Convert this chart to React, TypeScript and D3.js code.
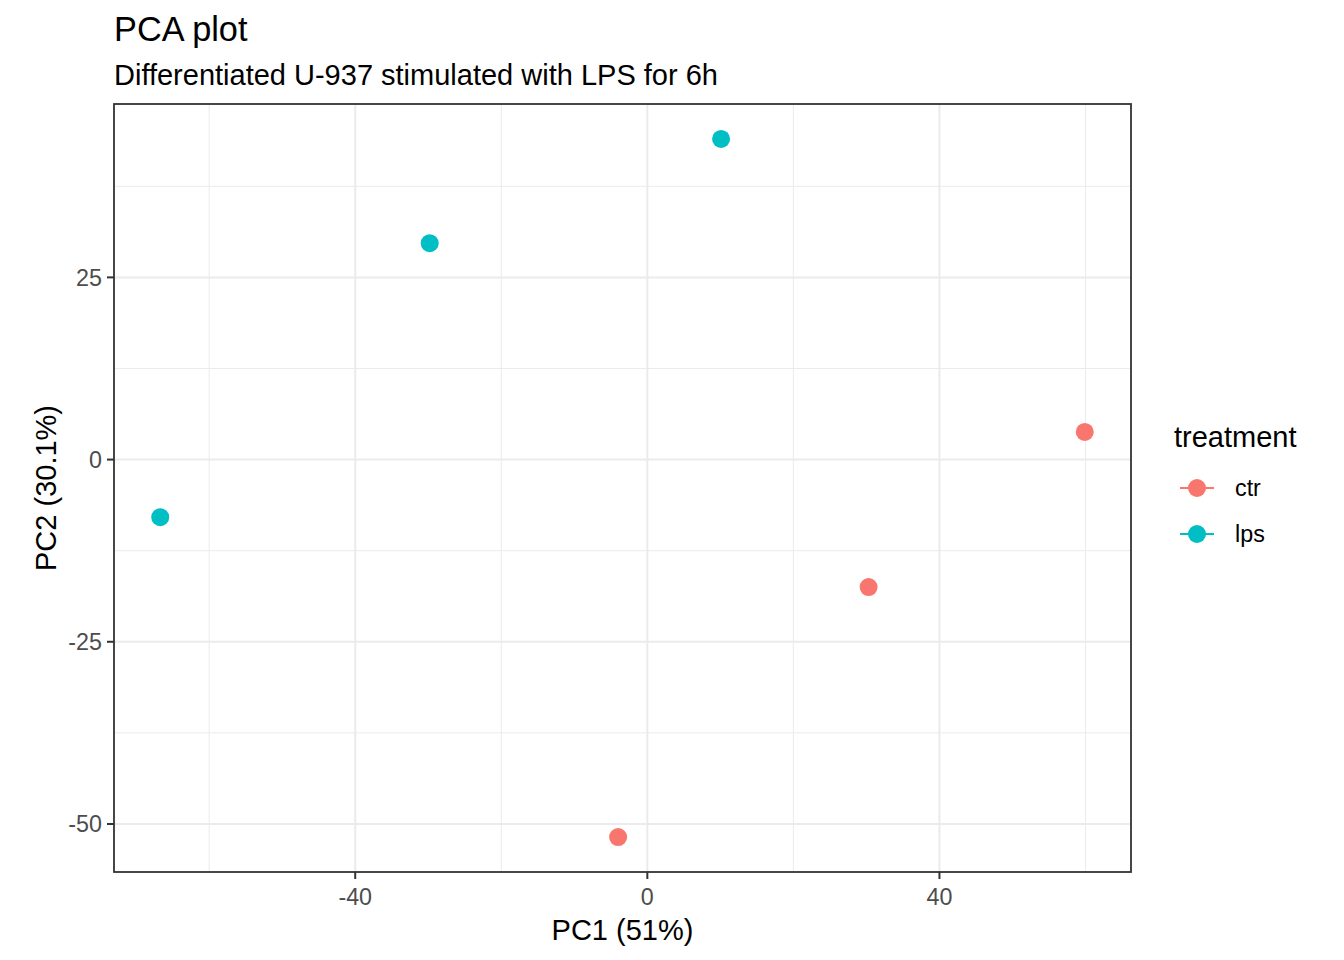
import * as d3 from "d3";

const samples = ["ctr_1", "ctr_2", "ctr_3", "lps_1", "lps_2", "lps_3"];
const treatment = ["ctr", "ctr", "ctr", "lps", "lps", "lps"];
const pc1 = [59.9, 30.3, -4.0, -66.7, -29.8, 10.1];
const pc2 = [3.8, -17.5, -51.8, -7.9, 29.7, 44.0];
const groups = ["ctr", "lps"];
const xTicks = [-40, 0, 40];
const yTicks = [-50, -25, 0, 25];

const COLORS: Record<string, string> = { ctr: "#F8766D", lps: "#00BFC4" };
const FONT = "'Liberation Sans', Arial, sans-serif";

export default function App() {
  const width = 1344;
  const height = 960;
  const margin = { top: 104, right: 213, bottom: 88, left: 114 };
  const pw = width - margin.left - margin.right;
  const ph = height - margin.top - margin.bottom;

  const xr = d3.extent(pc1) as [number, number];
  const yr = d3.extent(pc2) as [number, number];
  const xe = (xr[1] - xr[0]) * 0.05;
  const ye = (yr[1] - yr[0]) * 0.05;
  const x = d3.scaleLinear().domain([xr[0] - xe, xr[1] + xe]).range([0, pw]);
  const y = d3.scaleLinear().domain([yr[0] - ye, yr[1] + ye]).range([ph, 0]);

  // minor gridlines halfway between majors
  const xMinor = [-60, -20, 20, 60].filter((v) => v >= x.domain()[0] && v <= x.domain()[1]);
  const yMinor = [-37.5, -12.5, 12.5, 37.5].filter((v) => v >= y.domain()[0] && v <= y.domain()[1]);

  return (
    <svg width={width} height={height} style={{ display: "block", margin: -8 }} fontFamily={FONT}>
      <rect width={width} height={height} fill="#fff" />
      <text x={114} y={41} fontSize={34.3} fill="#000">PCA plot</text>
      <text x={114} y={85} fontSize={29} fill="#000">Differentiated U-937 stimulated with LPS for 6h</text>
      <g transform={`translate(${margin.left},${margin.top})`}>
        {xMinor.map((v) => (
          <line key={"xm" + v} x1={x(v)} x2={x(v)} y1={0} y2={ph} stroke="#EBEBEB" strokeWidth={1} />
        ))}
        {yMinor.map((v) => (
          <line key={"ym" + v} y1={y(v)} y2={y(v)} x1={0} x2={pw} stroke="#EBEBEB" strokeWidth={1} />
        ))}
        {xTicks.map((v) => (
          <line key={"xg" + v} x1={x(v)} x2={x(v)} y1={0} y2={ph} stroke="#EBEBEB" strokeWidth={2} />
        ))}
        {yTicks.map((v) => (
          <line key={"yg" + v} y1={y(v)} y2={y(v)} x1={0} x2={pw} stroke="#EBEBEB" strokeWidth={2} />
        ))}
        {pc1.map((v, i) => (
          <circle key={samples[i]} cx={x(v)} cy={y(pc2[i])} r={9} fill={COLORS[treatment[i]]} />
        ))}
        <rect x={0} y={0} width={pw} height={ph} fill="none" stroke="#333333" strokeWidth={1.8} />
        {xTicks.map((v) => (
          <g key={"xt" + v} transform={`translate(${x(v)},${ph})`}>
            <line y1={0} y2={7} stroke="#333333" strokeWidth={2} />
            <text y={33} textAnchor="middle" fontSize={23.3} fill="#4D4D4D">{v}</text>
          </g>
        ))}
        {yTicks.map((v) => (
          <g key={"yt" + v} transform={`translate(0,${y(v)})`}>
            <line x1={-7} x2={0} stroke="#333333" strokeWidth={2} />
            <text x={-12} dy="0.35em" textAnchor="end" fontSize={23.3} fill="#4D4D4D">{v}</text>
          </g>
        ))}
        <text x={pw / 2} y={ph + 68} textAnchor="middle" fontSize={29} fill="#000">PC1 (51%)</text>
        <text
          transform={`translate(${-58},${ph / 2}) rotate(-90)`}
          textAnchor="middle"
          fontSize={29}
          fill="#000"
        >
          PC2 (30.1%)
        </text>
      </g>
      <g transform="translate(1174,0)">
        <text x={0} y={447} fontSize={29} fill="#000">treatment</text>
        {groups.map((g, i) => (
          <g key={g} transform={`translate(23,${488 + i * 46})`}>
            <line x1={-17} x2={17} stroke={COLORS[g]} strokeWidth={2} />
            <circle r={9} fill={COLORS[g]} />
            <text x={38} dy="0.35em" fontSize={23.3} fill="#000">{g}</text>
          </g>
        ))}
      </g>
    </svg>
  );
}
